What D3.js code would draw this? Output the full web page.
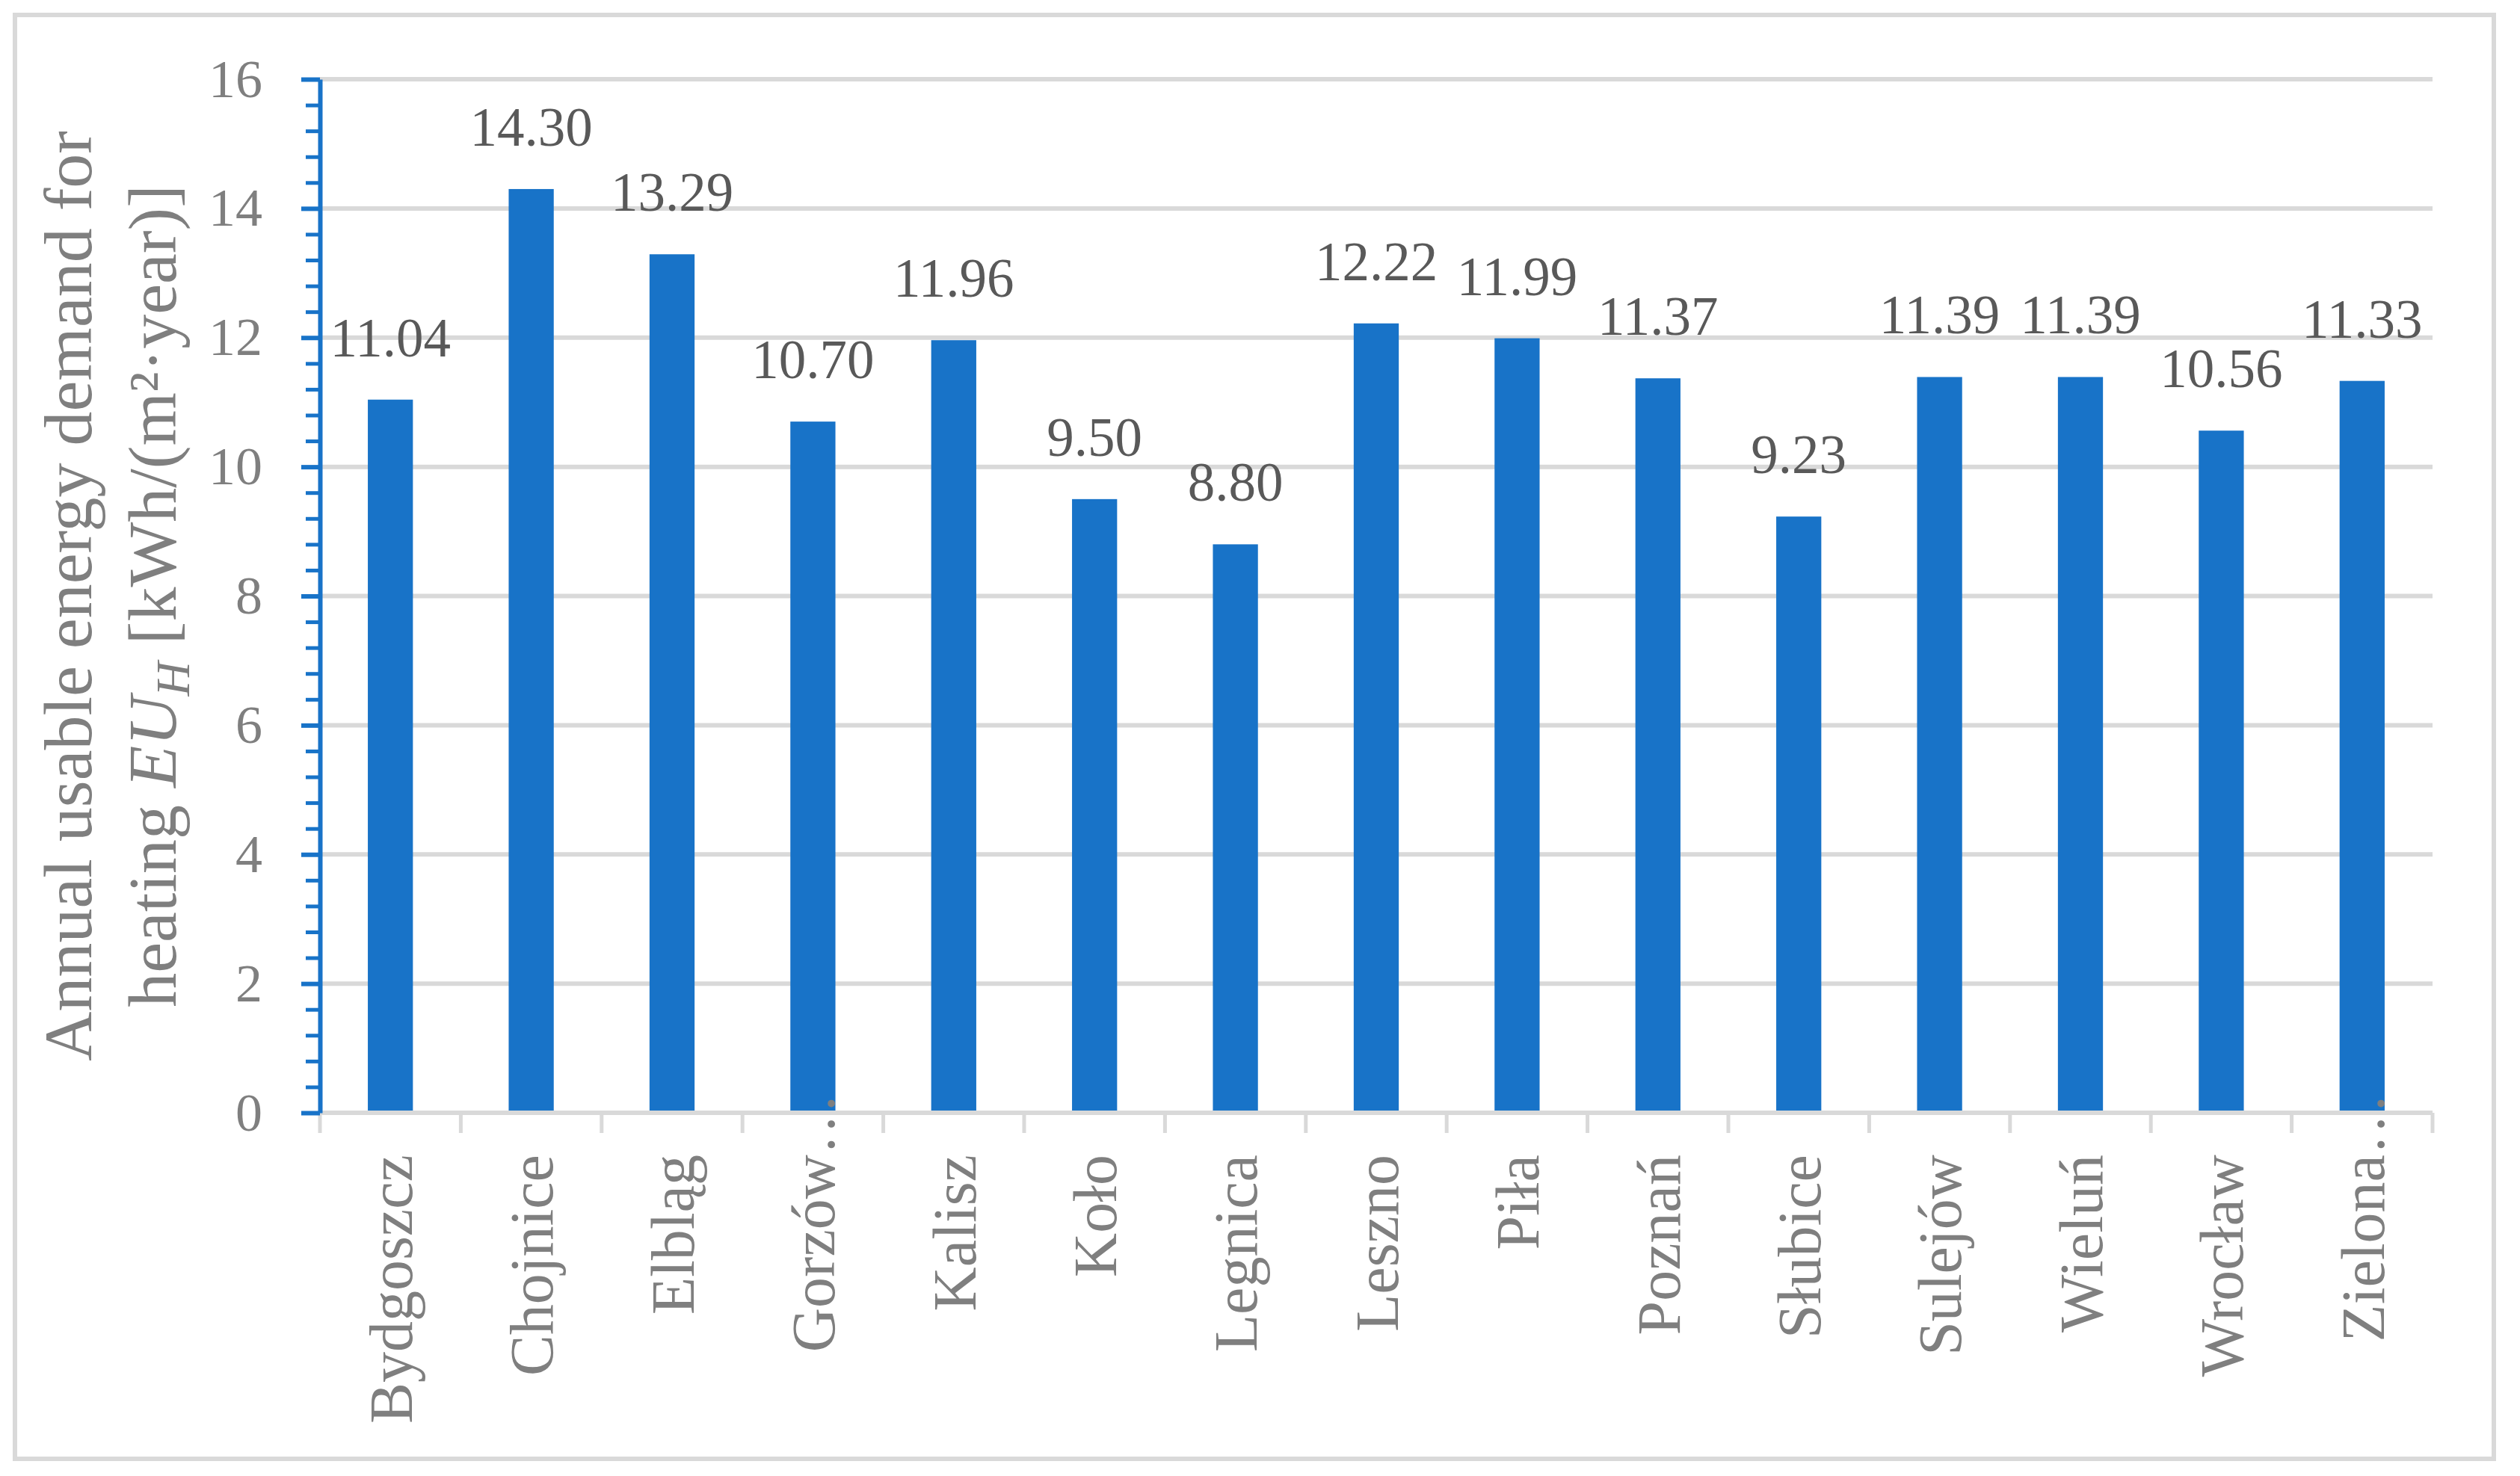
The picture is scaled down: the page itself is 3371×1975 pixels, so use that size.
<!DOCTYPE html>
<html>
<head>
<meta charset="utf-8">
<script src="https://cdn.jsdelivr.net/npm/d3@7.9.0/dist/d3.min.js"></script>
<style>
  body { margin: 0; background: #fff; }
  svg { display: block; font-family: "Liberation Serif", "Times New Roman", serif; }
</style>
</head>
<body>
<svg id="chart" width="3371" height="1975"></svg>
<script>
const cities = ['Bydgoszcz', 'Chojnice', 'Elbląg', 'Gorzów…', 'Kalisz', 'Koło', 'Legnica',
  'Leszno', 'Piła', 'Poznań', 'Słubice', 'Sulejów', 'Wieluń', 'Wrocław', 'Zielona…'];
const demand = [11.04, 14.30, 13.29, 10.70, 11.96, 9.50, 8.80, 12.22, 11.99, 11.37, 9.23, 11.39, 11.39, 10.56, 11.33];
const yTicks = [0, 2, 4, 6, 8, 10, 12, 14, 16];
const titleLine1 = 'Annual usable energy demand for';

const blue = '#1873c8';
const grid = '#d9d9d9';
const gray = '#7f7f7f';

const svg = d3.select('#chart');
const plotLeft = 428, plotRight = 3254, plotTop = 106, plotBottom = 1489;

// chart border
svg.append('rect')
  .attr('x', 20).attr('y', 20)
  .attr('width', 3316).attr('height', 1932)
  .attr('fill', '#fff')
  .attr('stroke', grid)
  .attr('stroke-width', 6);

const x = d3.scaleBand().domain(cities).range([plotLeft, plotRight]);
const y = d3.scaleLinear().domain([0, 16]).range([plotBottom, plotTop]);

// horizontal gridlines
svg.append('g')
  .selectAll('line')
  .data(yTicks.filter(t => t > 0))
  .join('line')
  .attr('x1', plotLeft).attr('x2', plotRight)
  .attr('y1', d => y(d)).attr('y2', d => y(d))
  .attr('stroke', grid)
  .attr('stroke-width', 6);

// bars
const barW = x.bandwidth() * 0.32;
svg.append('g')
  .selectAll('rect')
  .data(demand)
  .join('rect')
  .attr('x', (d, i) => x(cities[i]) + (x.bandwidth() - barW) / 2)
  .attr('y', d => y(d))
  .attr('width', barW)
  .attr('height', d => y(0) - y(d))
  .attr('fill', blue);

// value labels
svg.append('g')
  .selectAll('text')
  .data(demand)
  .join('text')
  .attr('x', (d, i) => x(cities[i]) + x.bandwidth() / 2)
  .attr('y', d => y(d) - 58)
  .attr('text-anchor', 'middle')
  .attr('font-size', 73)
  .attr('fill', '#595959')
  .text(d => d3.format('.2f')(d));

// x axis line + ticks at category boundaries
svg.append('line')
  .attr('x1', plotLeft).attr('x2', plotRight)
  .attr('y1', plotBottom).attr('y2', plotBottom)
  .attr('stroke', grid).attr('stroke-width', 6);

svg.append('g')
  .selectAll('line')
  .data(cities.map(c => x(c)).concat([plotRight]))
  .join('line')
  .attr('x1', d => d).attr('x2', d => d)
  .attr('y1', plotBottom).attr('y2', plotBottom + 27)
  .attr('stroke', grid).attr('stroke-width', 5);

// category labels, rotated
const labelTop = 1545;
const xl = svg.append('g')
  .attr('font-size', 82)
  .attr('fill', gray);

cities.forEach(c => {
  const cx = x(c) + x.bandwidth() / 2;
  const parts = c.split('…');
  xl.append('text')
    .attr('transform', `translate(${cx},${labelTop}) rotate(-90)`)
    .attr('text-anchor', 'end')
    .attr('dy', '0.35em')
    .text(parts[0]);
  if (parts.length > 1) {
    xl.append('text')
      .attr('transform', `translate(${cx},${labelTop}) rotate(-90)`)
      .attr('text-anchor', 'start')
      .attr('dy', '0.35em')
      .text('…');
  }
});

// y axis: minor ticks, then major ticks with labels
const minor = d3.range(0, 16.001, 0.4).filter(v => Math.abs(v / 2 - Math.round(v / 2)) > 1e-6);
const yMinor = svg.append('g')
  .attr('transform', `translate(${plotLeft},0)`)
  .call(d3.axisLeft(y).tickValues(minor).tickSize(19).tickSizeOuter(0).tickFormat(''));
yMinor.select('.domain').remove();
yMinor.selectAll('.tick line').attr('stroke', blue).attr('stroke-width', 5);

const yAxis = svg.append('g')
  .attr('transform', `translate(${plotLeft},0)`)
  .call(d3.axisLeft(y).tickValues(yTicks).tickSize(25).tickSizeOuter(0).tickPadding(52));
yAxis.select('.domain').attr('stroke', blue).attr('stroke-width', 6);
yAxis.selectAll('.tick line').attr('stroke', blue).attr('stroke-width', 6);
yAxis.selectAll('.tick text')
  .attr('fill', gray)
  .attr('font-size', 72)
  .attr('font-family', '"Liberation Serif", serif');

// y axis title, two lines
const midY = (plotTop + plotBottom) / 2;
svg.append('text')
  .attr('transform', `translate(122,${midY}) rotate(-90)`)
  .attr('text-anchor', 'middle')
  .attr('font-size', 92)
  .attr('fill', gray)
  .text(titleLine1);

const t2 = svg.append('text')
  .attr('transform', `translate(235,${midY}) rotate(-90)`)
  .attr('text-anchor', 'middle')
  .attr('font-size', 92)
  .attr('fill', gray);
t2.append('tspan').text('heating ');
t2.append('tspan').attr('font-style', 'italic').text('EU');
t2.append('tspan').attr('font-style', 'italic').attr('font-size', 64).attr('dy', 18).text('H');
t2.append('tspan').attr('dy', -18).text(' [kWh/(m²·year)]');
</script>
</body>
</html>
